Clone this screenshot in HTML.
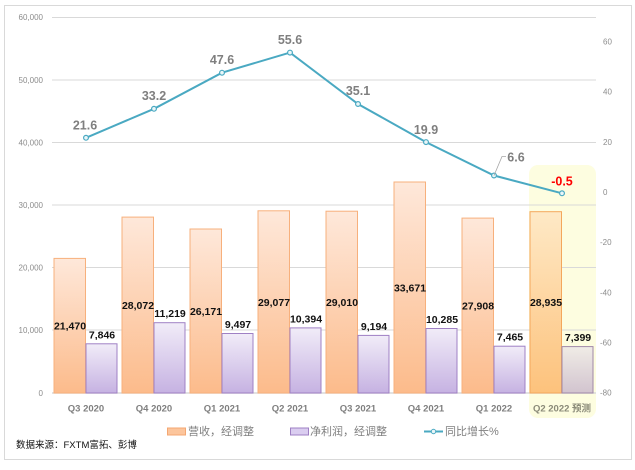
<!DOCTYPE html>
<html><head><meta charset="utf-8"><style>
html,body{margin:0;padding:0;background:#fff;}
svg{display:block;}
.ax{font-family:"Liberation Sans",sans-serif;font-size:8px;fill:#8c8c8c;}
.cat{font-family:"Liberation Sans","Noto Sans CJK SC",sans-serif;font-size:9.5px;font-weight:bold;fill:#7f7f7f;}
.bl{font-family:"Liberation Sans",sans-serif;font-size:10.5px;font-weight:bold;fill:#111;}
.ll{font-family:"Liberation Sans",sans-serif;font-size:12.5px;font-weight:bold;fill:#7f7f7f;}
.lg{font-family:"Liberation Sans","Noto Sans CJK SC",sans-serif;font-size:11px;fill:#7f7f7f;}
.src{font-family:"Liberation Sans","Noto Sans CJK SC",sans-serif;font-size:9.5px;fill:#111;}
</style></head><body>
<svg width="635" height="470" viewBox="0 0 635 470" xmlns="http://www.w3.org/2000/svg">
<defs>
<linearGradient id="og" x1="0" y1="0" x2="0" y2="1"><stop offset="0" stop-color="#fee8da"/><stop offset="1" stop-color="#fcbb8b"/></linearGradient>
<linearGradient id="pg" x1="0" y1="0" x2="0" y2="1"><stop offset="0" stop-color="#f1ecf8"/><stop offset="1" stop-color="#c6b2e2"/></linearGradient>
<linearGradient id="fog" x1="0" y1="0" x2="0" y2="1"><stop offset="0" stop-color="#fee9c6"/><stop offset="1" stop-color="#fdc27c"/></linearGradient>
<linearGradient id="fpg" x1="0" y1="0" x2="0" y2="1"><stop offset="0" stop-color="#f0ece6"/><stop offset="1" stop-color="#d2c4cf"/></linearGradient>
</defs>
<rect x="4.5" y="5.5" width="627" height="454" fill="#fff" stroke="#d9d9d9" stroke-width="1"/>
<!-- highlight -->
<rect x="529" y="165" width="67" height="253" rx="9" fill="#fdfde0"/>
<!-- gridlines -->
<g stroke="#d9d9d9" stroke-width="1">
<line x1="52" y1="17.5" x2="596" y2="17.5"/>
<line x1="52" y1="80" x2="596" y2="80"/>
<line x1="52" y1="142.5" x2="596" y2="142.5"/>
<line x1="52" y1="205" x2="596" y2="205"/>
<line x1="52" y1="267.5" x2="596" y2="267.5"/>
<line x1="52" y1="330" x2="596" y2="330"/>
<line x1="52" y1="393" x2="596" y2="393" stroke-width="1.5"/>
</g>
<!-- left axis -->
<g class="ax" text-anchor="end">
<text x="43" y="20">60,000</text>
<text x="43" y="83">50,000</text>
<text x="43" y="145.5">40,000</text>
<text x="43" y="208">30,000</text>
<text x="43" y="270.5">20,000</text>
<text x="43" y="333">10,000</text>
<text x="43" y="396">0</text>
</g>
<!-- right axis -->
<g class="ax">
<text x="603" y="44.5">60</text>
<text x="603" y="94.5">40</text>
<text x="603" y="145">20</text>
<text x="603" y="195">0</text>
<text x="600" y="245">-20</text>
<text x="600" y="295.5">-40</text>
<text x="600" y="345.5">-60</text>
<text x="600" y="395.5">-80</text>
</g>
<!-- bars -->
<g stroke-width="1">
<rect x="54" y="258.4" width="31.5" height="134.6" fill="url(#og)" stroke="#f7b07c"/>
<rect x="86" y="343.8" width="31" height="49.2" fill="url(#pg)" stroke="#9f80c4"/>
<rect x="122" y="217.1" width="31.5" height="175.9" fill="url(#og)" stroke="#f7b07c"/>
<rect x="154" y="322.7" width="31" height="70.3" fill="url(#pg)" stroke="#9f80c4"/>
<rect x="190" y="229" width="31.5" height="164" fill="url(#og)" stroke="#f7b07c"/>
<rect x="222" y="333.5" width="31" height="59.5" fill="url(#pg)" stroke="#9f80c4"/>
<rect x="258" y="210.8" width="31.5" height="182.2" fill="url(#og)" stroke="#f7b07c"/>
<rect x="290" y="327.9" width="31" height="65.1" fill="url(#pg)" stroke="#9f80c4"/>
<rect x="326" y="211.2" width="31.5" height="181.8" fill="url(#og)" stroke="#f7b07c"/>
<rect x="358" y="335.4" width="31" height="57.6" fill="url(#pg)" stroke="#9f80c4"/>
<rect x="394" y="182" width="31.5" height="211" fill="url(#og)" stroke="#f7b07c"/>
<rect x="426" y="328.5" width="31" height="64.5" fill="url(#pg)" stroke="#9f80c4"/>
<rect x="462" y="218.1" width="31.5" height="174.9" fill="url(#og)" stroke="#f7b07c"/>
<rect x="494" y="346.2" width="31" height="46.8" fill="url(#pg)" stroke="#9f80c4"/>
<rect x="530" y="211.7" width="31.5" height="181.3" fill="url(#fog)" stroke="#f4a75c"/>
<rect x="562" y="346.6" width="31" height="46.4" fill="url(#fpg)" stroke="#a088a8"/>
</g>
<!-- bar labels -->
<g class="bl" text-anchor="middle">
<text x="70" y="329.5">21,470</text>
<text x="102" y="338.5">7,846</text>
<text x="138" y="309">28,072</text>
<text x="170" y="317">11,219</text>
<text x="206" y="315">26,171</text>
<text x="238" y="328">9,497</text>
<text x="274" y="306">29,077</text>
<text x="306" y="322.5">10,394</text>
<text x="342" y="306">29,010</text>
<text x="374" y="330">9,194</text>
<text x="410" y="291.5">33,671</text>
<text x="442" y="323">10,285</text>
<text x="478" y="309.5">27,908</text>
<text x="510" y="340.5">7,465</text>
<text x="546" y="306">28,935</text>
<text x="578" y="341">7,399</text>
</g>
<!-- line -->
<polyline points="86,137.8 154,108.8 222,72.7 290,52.6 358,104 426,142.1 494,175.5 562,193.3" fill="none" stroke="#4aa9c2" stroke-width="2"/>
<g fill="#eaf6f8" stroke="#4aa9c2" stroke-width="1.2">
<circle cx="86" cy="137.8" r="2.4"/>
<circle cx="154" cy="108.8" r="2.4"/>
<circle cx="222" cy="72.7" r="2.4"/>
<circle cx="290" cy="52.6" r="2.4"/>
<circle cx="358" cy="104" r="2.4"/>
<circle cx="426" cy="142.1" r="2.4"/>
<circle cx="494" cy="175.5" r="2.4"/>
<circle cx="562" cy="193.3" r="2.4"/>
</g>
<polyline points="494,175.5 502,156.5 506,156.5" fill="none" stroke="#a6a6a6" stroke-width="0.8"/>
<g class="ll" text-anchor="middle">
<text x="85" y="129.5">21.6</text>
<text x="154" y="100">33.2</text>
<text x="222" y="64">47.6</text>
<text x="290" y="44">55.6</text>
<text x="358" y="95">35.1</text>
<text x="426" y="134">19.9</text>
<text x="516" y="161.5">6.6</text>
<text x="562" y="185.5" style="fill:#ff0000">-0.5</text>
</g>
<!-- categories -->
<g class="cat" text-anchor="middle">
<text x="86" y="411.5">Q3 2020</text>
<text x="154" y="411.5">Q4 2020</text>
<text x="222" y="411.5">Q1 2021</text>
<text x="290" y="411.5">Q2 2021</text>
<text x="358" y="411.5">Q3 2021</text>
<text x="426" y="411.5">Q4 2021</text>
<text x="494" y="411.5">Q1 2022</text>
<text x="562" y="411.5" style="fill:#8a8a78">Q2 2022 预测</text>
</g>
<!-- legend -->
<rect x="167.5" y="428" width="18" height="7" fill="#fcc59c" stroke="#f4a772" stroke-width="1"/>
<text class="lg" x="188" y="435">营收，经调整</text>
<rect x="290.5" y="428" width="18" height="7" fill="#dacdf0" stroke="#9f80c4" stroke-width="1"/>
<text class="lg" x="310" y="435">净利润，经调整</text>
<line x1="424" y1="431.5" x2="443" y2="431.5" stroke="#4aa9c2" stroke-width="2"/>
<circle cx="433.5" cy="431.5" r="2.2" fill="#eaf6f8" stroke="#4aa9c2" stroke-width="1"/>
<text class="lg" x="445" y="435">同比增长%</text>
<!-- source -->
<text class="src" x="16" y="448">数据来源：FXTM富拓、彭博</text>
</svg>
</body></html>
